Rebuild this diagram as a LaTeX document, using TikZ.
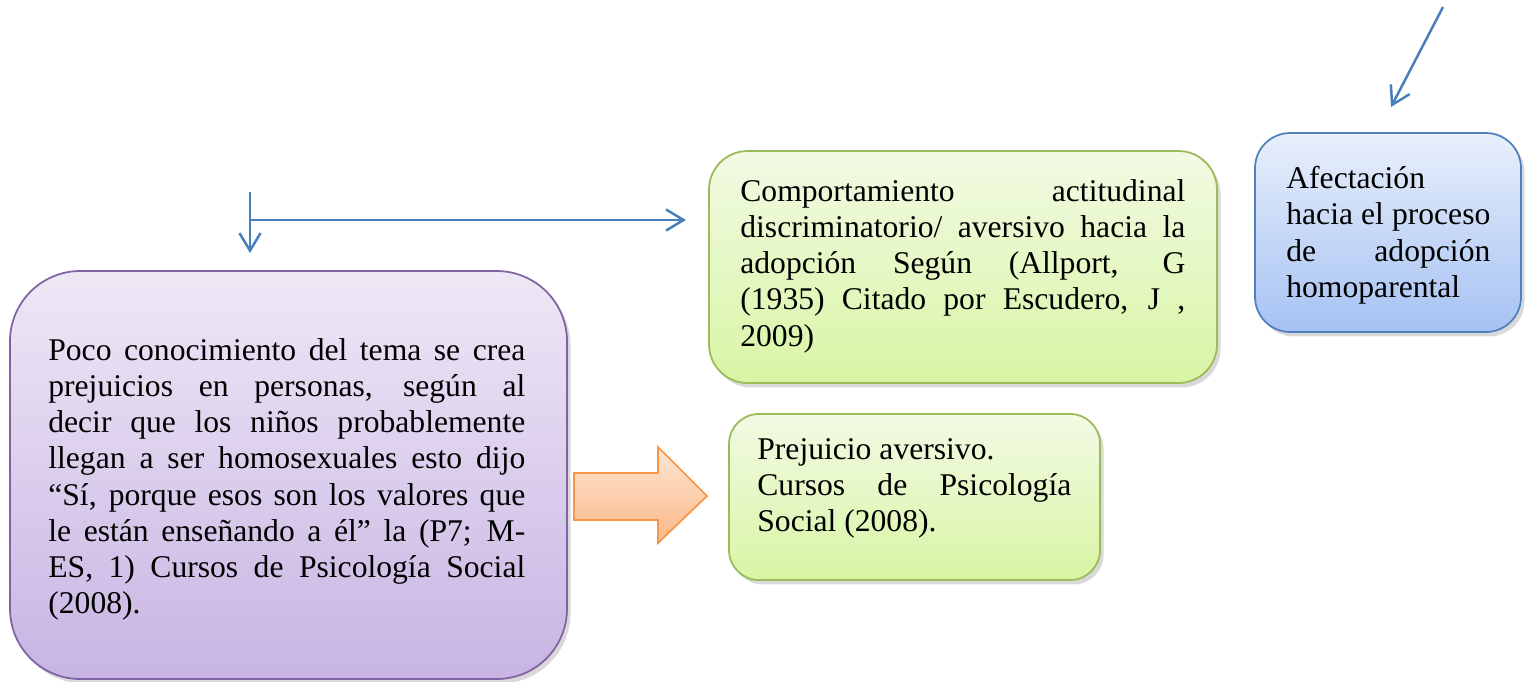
\documentclass[tikz,border=0pt]{standalone}
\usepackage{fontspec}
\setmainfont{Liberation Serif}
\usetikzlibrary{arrows.meta,shadows}
\definecolor{purpTop}{HTML}{EEE8F6}
\definecolor{purpBot}{HTML}{C8B4E3}
\definecolor{purpLine}{HTML}{8064A2}
\definecolor{grnTop}{HTML}{F2FAE4}
\definecolor{grnBot}{HTML}{D8F5A4}
\definecolor{grnLine}{HTML}{9BBB59}
\definecolor{bluTop}{HTML}{E8EFFB}
\definecolor{bluBot}{HTML}{A6C2F3}
\definecolor{bluLine}{HTML}{4F81BD}
\definecolor{orTop}{HTML}{FDE6D5}
\definecolor{orBot}{HTML}{FBB887}
\definecolor{orLine}{HTML}{F79646}
\definecolor{arr}{HTML}{4A7EBB}
\tikzset{
  box/.style={draw, line width=1pt, inner sep=0pt,
    drop shadow={opacity=0.3, shadow xshift=2pt, shadow yshift=-2.5pt}},
  purplebox/.style={box, draw=purpLine, top color=purpTop, bottom color=purpBot, rounded corners=40pt},
  greenbox/.style={box, draw=grnLine, top color=grnTop, bottom color=grnBot},
  bluebox/.style={box, draw=bluLine, top color=bluTop, bottom color=bluBot, rounded corners=20pt},
  txt/.style={anchor=north west, inner sep=0pt, align=justify,
    font=\fontsize{18}{20.6}\selectfont},
  conn/.style={draw=arr, line width=1.4pt, -{Straight Barb[length=10pt,width=12pt,line width=1.4pt]}},
}
\begin{document}
\begin{tikzpicture}[x=0.02cm,y=0.02cm]
\useasboundingbox (0,0) rectangle (1531,-681);
% boxes
\node[purplebox, minimum width=557*0.02cm, minimum height=408*0.02cm] (pbox) at (288.5,-475) {};
\node[greenbox, rounded corners=22pt, minimum width=508*0.02cm, minimum height=232*0.02cm] (gbox1) at (963,-267) {};
\node[greenbox, rounded corners=17pt, minimum width=371*0.02cm, minimum height=166*0.02cm] (gbox2) at (914.5,-497) {};
\node[bluebox, minimum width=266*0.02cm, minimum height=199*0.02cm] (bbox) at (1388,-232.5) {};
% texts
\node[txt, text width=477*0.02cm] (ptext) at (48,-338) {Poco conocimiento del tema se crea\linebreak prejuicios en personas, según al\linebreak decir que los niños probablemente\linebreak llegan a ser homosexuales esto dijo\linebreak “Sí, porque esos son los valores que\linebreak le están enseñando a él” la (P7; M-\linebreak ES, 1) Cursos de Psicología Social\linebreak (2008).};
\node[txt, text width=445*0.02cm] (g1text) at (740,-179) {Comportamiento actitudinal\linebreak discriminatorio/ aversivo hacia la\linebreak adopción Según (Allport, G\linebreak (1935) Citado por Escudero, J ,\linebreak 2009)};
\node[txt, text width=314*0.02cm] (g2text) at (757,-438) {Prejuicio aversivo.\\ Cursos de Psicología\linebreak Social (2008).};
\node[txt, text width=204*0.02cm] (btext) at (1286,-166) {Afectación\\ hacia el proceso\linebreak de adopción\linebreak homoparental};
% orange block arrow
\filldraw[draw=orLine, line width=1pt, top color=orTop, bottom color=orBot, line join=miter]
  (574,-473) -- (658,-473) -- (658,-447) -- (707,-496) -- (658,-543) -- (658,-520) -- (574,-520) -- cycle;
% connectors
\coordinate (vtop) at (250,-192);
\coordinate (vend) at (250,-253);
\coordinate (hstart) at (250,-220);
\coordinate (hend) at (686,-220);
\coordinate (dstart) at (1443,-7);
\coordinate (dend) at (1391,-107);
\draw[conn] (vtop) -- (vend);
\draw[conn] (hstart) -- (hend);
\draw[conn] (dstart) -- (dend);
\end{tikzpicture}
\end{document}
